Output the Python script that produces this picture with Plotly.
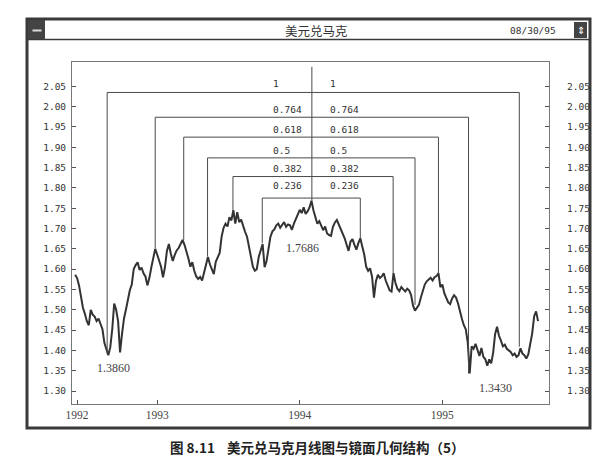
import pandas as pd
import plotly.graph_objects as go

# Dados: USD/DEM, um ponto a cada 5 dias a partir de 05/06/1992
usd_dem = [
    1.586, 1.578, 1.560, 1.535, 1.505, 1.490, 1.472, 1.462, 1.500, 1.488,
    1.483, 1.472, 1.478, 1.465, 1.452, 1.418, 1.400, 1.388, 1.408, 1.452,
    1.515, 1.500, 1.472, 1.395, 1.440, 1.478, 1.500, 1.528, 1.548, 1.562,
    1.600, 1.610, 1.617, 1.598, 1.604, 1.590, 1.582, 1.560, 1.578, 1.604,
    1.628, 1.650, 1.636, 1.620, 1.606, 1.580, 1.605, 1.645, 1.662, 1.638,
    1.620, 1.635, 1.646, 1.652, 1.664, 1.672, 1.660, 1.645, 1.626, 1.606,
    1.617, 1.596, 1.582, 1.576, 1.581, 1.572, 1.590, 1.612, 1.630, 1.612,
    1.600, 1.588, 1.618, 1.630, 1.640, 1.680, 1.702, 1.712, 1.705, 1.728,
    1.720, 1.745, 1.712, 1.740, 1.716, 1.722, 1.705, 1.692, 1.680, 1.655,
    1.625, 1.606, 1.596, 1.600, 1.630, 1.645, 1.662, 1.605, 1.620, 1.650,
    1.680, 1.693, 1.698, 1.708, 1.712, 1.702, 1.708, 1.716, 1.704, 1.710,
    1.708, 1.697, 1.712, 1.724, 1.736, 1.746, 1.738, 1.752, 1.736, 1.742,
    1.752, 1.7686, 1.745, 1.728, 1.712, 1.718, 1.706, 1.696, 1.705, 1.688,
    1.684, 1.682, 1.704, 1.715, 1.721, 1.710, 1.695, 1.684, 1.676, 1.660,
    1.645, 1.668, 1.674, 1.660, 1.648, 1.664, 1.676, 1.656, 1.636, 1.606,
    1.596, 1.602, 1.582, 1.530, 1.570, 1.586, 1.578, 1.582, 1.590, 1.572,
    1.562, 1.548, 1.545, 1.590, 1.566, 1.552, 1.546, 1.556, 1.550, 1.545,
    1.552, 1.548, 1.536, 1.510, 1.498, 1.504, 1.512, 1.530, 1.548, 1.562,
    1.570, 1.575, 1.579, 1.572, 1.580, 1.583, 1.590, 1.556, 1.562, 1.541,
    1.530, 1.518, 1.514, 1.528, 1.536, 1.530, 1.516, 1.495, 1.478, 1.462,
    1.452, 1.420, 1.343, 1.410, 1.404, 1.416, 1.400, 1.386, 1.406, 1.384,
    1.378, 1.362, 1.378, 1.368, 1.394, 1.440, 1.458, 1.436, 1.424, 1.410,
    1.414, 1.404, 1.400, 1.396, 1.388, 1.392, 1.384, 1.388, 1.405, 1.392,
    1.388, 1.380, 1.390, 1.420, 1.442, 1.484, 1.496, 1.472,
]
datas = pd.date_range("1992-06-05", periods=len(usd_dem), freq="5D")

# Estrutura de espelho (niveis de Fibonacci)
niveis = ["1", "0.764", "0.618", "0.5", "0.382", "0.236"]
nivel_y = [2.035, 1.974, 1.925, 1.874, 1.828, 1.775]
rotulo_y = [2.056, 1.994, 1.945, 1.893, 1.849, 1.805]
data_esq = ["1992-08-26", "1992-12-27", "1993-03-10", "1993-05-10", "1993-07-14", "1993-09-27"]
data_dir = ["1995-07-17", "1995-03-09", "1994-12-22", "1994-10-23", "1994-08-28", "1994-06-05"]
fim_esq = [1.393, 1.651, 1.672, 1.631, 1.746, 1.664]
fim_dir = [1.409, 1.343, 1.590, 1.512, 1.590, 1.676]
centro_data = "1994-02-01"
centro_y = [2.098, 1.7686]
rotulo_x_esq = "1993-10-19"
rotulo_x_dir = "1994-03-14"

# Precos marcados
marcas_txt = ["1.3860", "1.7686", "1.3430"]
marcas_x = ["1992-09-10", "1994-01-09", "1995-05-16"]
marcas_y = [1.3574, 1.6515, 1.3062]

# Eixos
anos_vals = ["1992-06-10", "1993-01-01", "1994-01-01", "1995-01-01"]
anos_txt = ["1992", "1993", "1994", "1995"]
y_vals = [1.30, 1.35, 1.40, 1.45, 1.50, 1.55, 1.60, 1.65, 1.70, 1.75, 1.80, 1.85, 1.90, 1.95, 2.00, 2.05]
y_txt = ["%.2f" % v for v in y_vals]
faixa_x = ["1992-05-28", "1995-10-01"]
faixa_y = [1.268, 2.110]

MONO = "DejaVu Sans Mono"
SERIF = "Liberation Serif"
CJK = "Noto Sans CJK SC"

# area do grafico em pixels: x 72..549, y 62..404
def px(p):
    return (p - 72) / 477.0

def py(p):
    return (404 - p) / 342.0

fig = go.Figure()

fig.add_trace(go.Scatter(x=datas, y=usd_dem, mode="lines",
                         line=dict(color="#333333", width=2), showlegend=False))

for i in range(len(niveis)):
    fig.add_trace(go.Scatter(
        x=[data_esq[i], data_esq[i], data_dir[i], data_dir[i]],
        y=[fim_esq[i], nivel_y[i], nivel_y[i], fim_dir[i]],
        mode="lines", line=dict(color="#4a4a4a", width=1), showlegend=False))

fig.add_trace(go.Scatter(x=[centro_data, centro_data], y=centro_y, mode="lines",
                         line=dict(color="#4a4a4a", width=1), showlegend=False))

# traco invisivel so para mostrar o eixo direito
fig.add_trace(go.Scatter(x=[datas[0]], y=[usd_dem[0]], yaxis="y2", mode="markers",
                         marker=dict(opacity=0), hoverinfo="skip", showlegend=False))

anot = []
for i in range(len(niveis)):
    for xx in (rotulo_x_esq, rotulo_x_dir):
        anot.append(dict(x=xx, y=rotulo_y[i], xref="x", yref="y", text=niveis[i],
                         showarrow=False, xanchor="left", yanchor="middle",
                         font=dict(family=MONO, size=9.5, color="#333")))
for t, xx, yy in zip(marcas_txt, marcas_x, marcas_y):
    anot.append(dict(x=xx, y=yy, xref="x", yref="y", text=t, showarrow=False,
                     xanchor="center", yanchor="middle",
                     font=dict(family=SERIF, size=12, color="#444")))

def texto_janela(x, y, texto, fonte):
    anot.append(dict(x=px(x), y=py(y), xref="paper", yref="paper", text=texto,
                     showarrow=False, xanchor="center", yanchor="middle", font=fonte))

texto_janela(316, 30, "美元兑马克", dict(family=CJK, size=12.5, color="#333"))
texto_janela(533, 30, "08/30/95", dict(family=MONO, size=9.5, color="#333"))
texto_janela(580.5, 30, "⇕", dict(family="DejaVu Sans", size=10, color="white"))
texto_janela(317, 447, "<b>图 8.11    美元兑马克月线图与镜面几何结构（5）</b>",
             dict(family=CJK, size=13.5, color="#222"))

formas = [
    dict(type="rect", xref="paper", yref="paper", x0=px(27), x1=px(590), y0=py(428), y1=py(19),
         line=dict(color="#3a3a3a", width=3)),
    dict(type="line", xref="paper", yref="paper", x0=px(27), x1=px(590), y0=py(39.5), y1=py(39.5),
         line=dict(color="#3a3a3a", width=1.5)),
    dict(type="rect", xref="paper", yref="paper", x0=px(28), x1=px(45), y0=py(39), y1=py(20),
         fillcolor="#444", line=dict(width=0)),
    dict(type="rect", xref="paper", yref="paper", x0=px(32.5), x1=px(41.5), y0=py(31.5), y1=py(29.5),
         fillcolor="#ddd", line=dict(width=0)),
    dict(type="rect", xref="paper", yref="paper", x0=px(574), x1=px(587), y0=py(38), y1=py(22),
         fillcolor="#444", line=dict(width=0)),
]

eixo_y = dict(range=faixa_y, tickvals=y_vals, ticktext=y_txt, ticks="inside", ticklen=4,
              tickcolor="#555", showgrid=False, zeroline=False,
              tickfont=dict(family=MONO, size=9.5, color="#333"))

fig.update_layout(
    width=616, height=467,
    margin=dict(l=72, r=67, t=62, b=63),
    paper_bgcolor="white", plot_bgcolor="white",
    xaxis=dict(type="date", range=faixa_x, tickvals=anos_vals, ticktext=anos_txt,
               ticks="inside", ticklen=4, tickcolor="#555", showline=True, linecolor="#777",
               linewidth=1, mirror=True, showgrid=False, zeroline=False,
               tickfont=dict(family=SERIF, size=11.5, color="#444")),
    yaxis=dict(**eixo_y, showline=True, linecolor="#777", linewidth=1, mirror=True,
               ticklabelstandoff=3),
    yaxis2=dict(**eixo_y, overlaying="y", side="right", showline=False, ticklabelstandoff=17),
    annotations=anot,
    shapes=formas,
    showlegend=False,
)

fig.write_html("out.html", config={"displayModeBar": False},
               post_script="document.body.style.margin='0';")
